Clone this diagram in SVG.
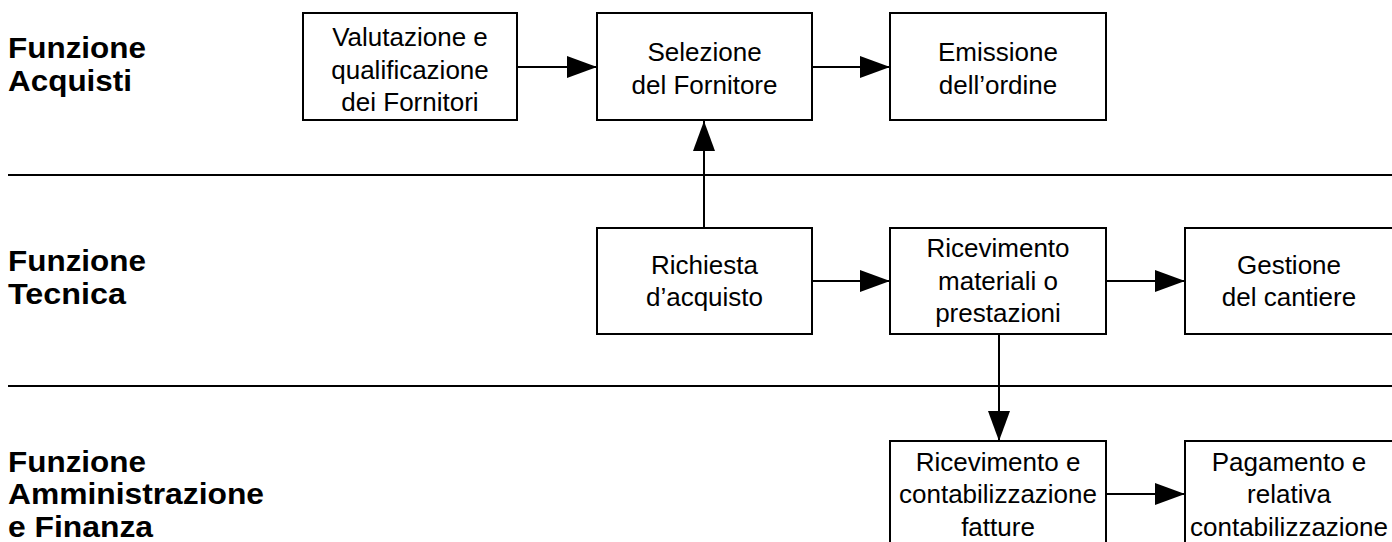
<svg xmlns="http://www.w3.org/2000/svg" width="1392" height="542" viewBox="0 0 1392 542">
<style>
.box{fill:#fff;stroke:#000;stroke-width:2}
.t{font-family:"Liberation Sans",Arial,sans-serif;font-size:26px;fill:#000;text-anchor:middle}
.lbl{font-family:"Liberation Sans",Arial,sans-serif;font-size:29px;font-weight:bold;fill:#000}
.ln{stroke:#000;stroke-width:2;fill:none}
</style>
<defs>
<marker id="ah" markerUnits="userSpaceOnUse" markerWidth="30" markerHeight="22" refX="30" refY="11" orient="auto">
<path d="M0,0 L30,11 L0,22 Z" fill="#000"/>
</marker>
</defs>
<g id="lanes">
<line class="ln" x1="8" y1="175" x2="1392" y2="175"/>
<line class="ln" x1="8" y1="386" x2="1392" y2="386"/>
<text class="lbl" x="8" y="58" textLength="138" lengthAdjust="spacingAndGlyphs">Funzione</text>
<text class="lbl" x="8" y="91" textLength="124" lengthAdjust="spacingAndGlyphs">Acquisti</text>
<text class="lbl" x="8" y="271" textLength="138" lengthAdjust="spacingAndGlyphs">Funzione</text>
<text class="lbl" x="8" y="304" textLength="118" lengthAdjust="spacingAndGlyphs">Tecnica</text>
<text class="lbl" x="8" y="472" textLength="138" lengthAdjust="spacingAndGlyphs">Funzione</text>
<text class="lbl" x="8" y="504" textLength="256" lengthAdjust="spacingAndGlyphs">Amministrazione</text>
<text class="lbl" x="8" y="537" textLength="145" lengthAdjust="spacingAndGlyphs">e Finanza</text>
</g>
<g id="connectors">
<line class="ln" x1="517" y1="67" x2="597" y2="67" marker-end="url(#ah)"/>
<line class="ln" x1="812" y1="67" x2="890" y2="67" marker-end="url(#ah)"/>
<line class="ln" x1="704" y1="228" x2="704" y2="121" marker-end="url(#ah)"/>
<line class="ln" x1="812" y1="281" x2="890" y2="281" marker-end="url(#ah)"/>
<line class="ln" x1="1106" y1="281" x2="1185" y2="281" marker-end="url(#ah)"/>
<line class="ln" x1="999" y1="334" x2="999" y2="441" marker-end="url(#ah)"/>
<line class="ln" x1="1106" y1="494" x2="1185" y2="494" marker-end="url(#ah)"/>
</g>
<g id="n1"><rect class="box" x="303" y="13" width="214" height="107"/>
<text class="t" x="410" y="46">Valutazione e<tspan x="410" y="79">qualificazione</tspan><tspan x="410" y="111">dei Fornitori</tspan></text></g>
<g id="n2"><rect class="box" x="597" y="13" width="215" height="107"/>
<text class="t" x="704.5" y="61">Selezione<tspan x="704.5" y="94">del Fornitore</tspan></text></g>
<g id="n3"><rect class="box" x="890" y="13" width="216" height="107"/>
<text class="t" x="998" y="61">Emissione<tspan x="998" y="94">dell’ordine</tspan></text></g>
<g id="n4"><rect class="box" x="597" y="228" width="215" height="106"/>
<text class="t" x="704.5" y="274">Richiesta<tspan x="704.5" y="306">d’acquisto</tspan></text></g>
<g id="n5"><rect class="box" x="890" y="228" width="216" height="106"/>
<text class="t" x="998" y="257">Ricevimento<tspan x="998" y="290">materiali o</tspan><tspan x="998" y="322">prestazioni</tspan></text></g>
<g id="n6"><rect class="box" x="1185" y="228" width="216" height="106"/>
<text class="t" x="1289" y="274">Gestione<tspan x="1289" y="306">del cantiere</tspan></text></g>
<g id="n7"><rect class="box" x="890" y="441" width="216" height="110"/>
<text class="t" x="998" y="471">Ricevimento e<tspan x="998" y="503">contabilizzazione</tspan><tspan x="998" y="536">fatture</tspan></text></g>
<g id="n8"><rect class="box" x="1185" y="441" width="216" height="110"/>
<text class="t" x="1289" y="471">Pagamento e<tspan x="1289" y="503">relativa</tspan><tspan x="1289" y="536">contabilizzazione</tspan></text></g>
</svg>
